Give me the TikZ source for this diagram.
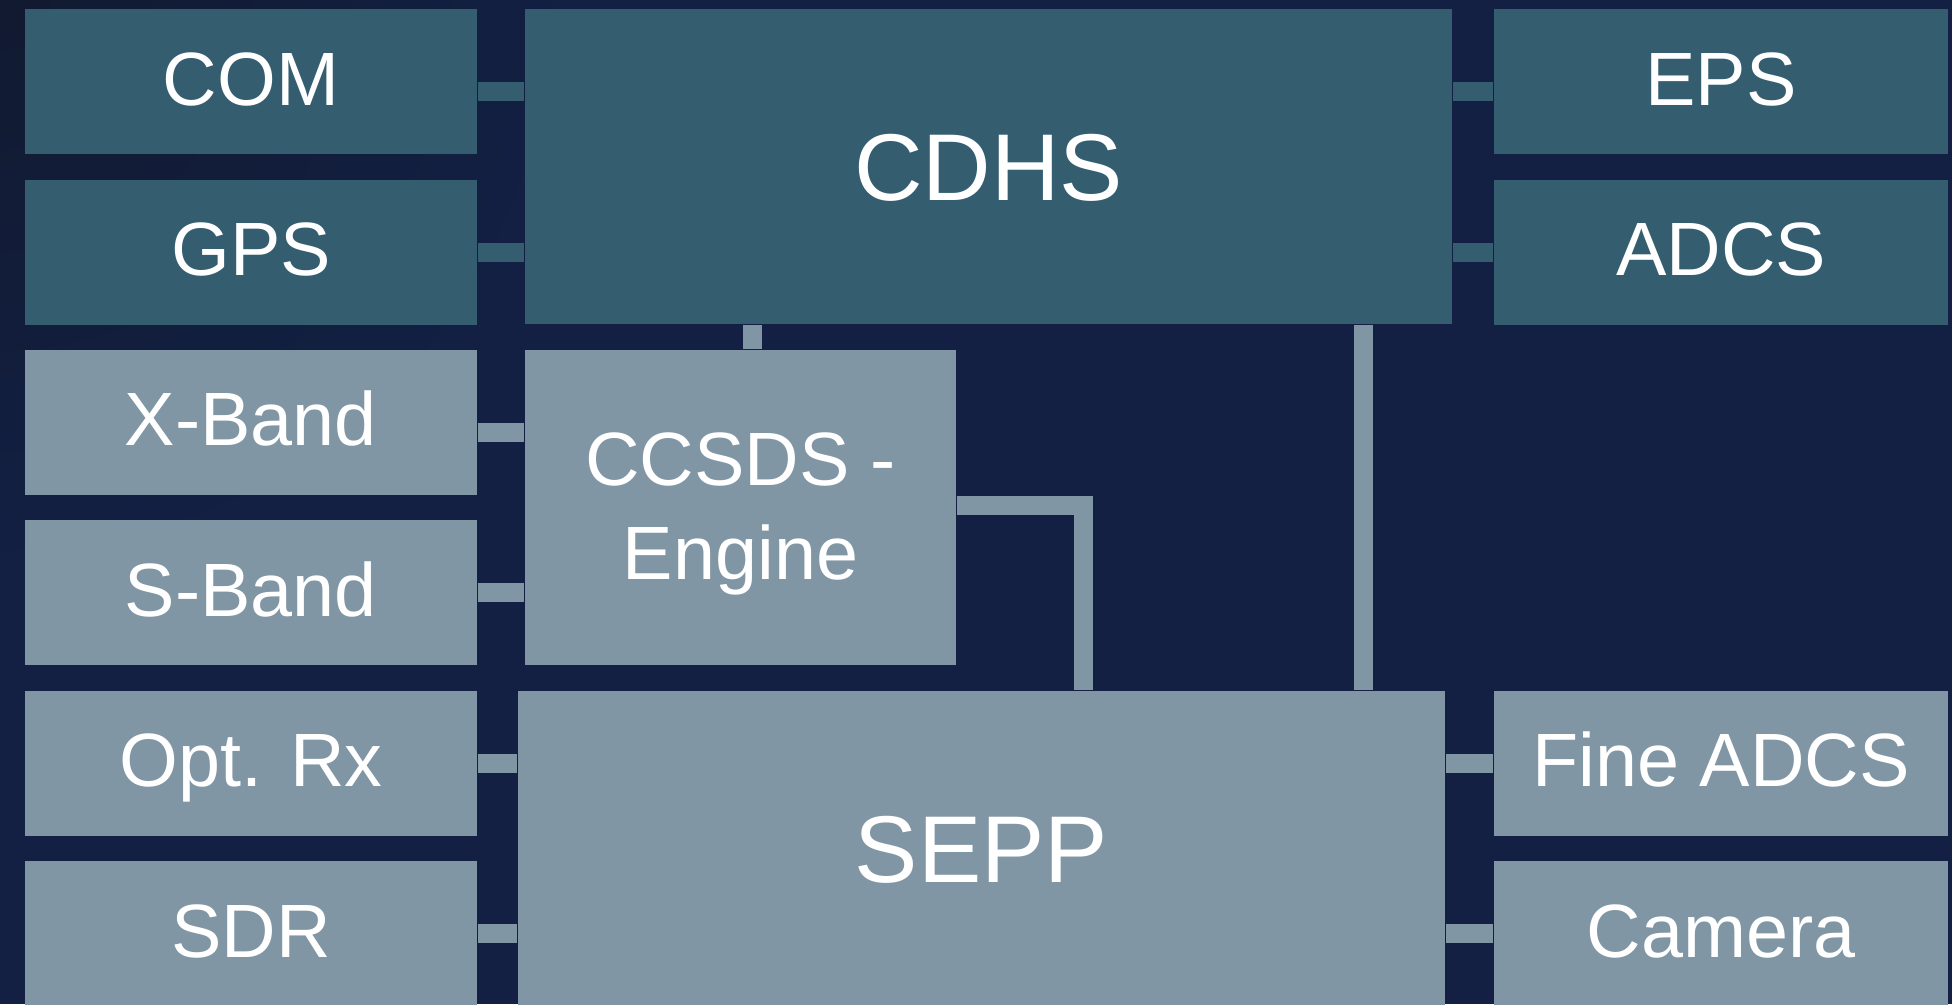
\documentclass[tikz,border=0pt]{standalone}
\usepackage{fontspec}
\setmainfont{Liberation Sans}
\definecolor{bgnavy}{HTML}{132044}
\definecolor{bgdark}{HTML}{111A30}
\definecolor{boxteal}{HTML}{345E70}
\definecolor{boxgrey}{HTML}{8196A4}

\begin{document}
\begin{tikzpicture}[y=-1cm,
    box/.style={rectangle, inner sep=0pt, text=white, align=center, font=\fontsize{21.5}{26.5}\selectfont},
    small/.style={box, minimum width=4.52cm, minimum height=1.45cm, text height=15.4pt, text depth=2pt},
    big/.style={box, minimum width=9.27cm, minimum height=3.15cm, text height=19.3pt, text depth=0pt, font=\fontsize{27}{32}\selectfont},
    dark/.style={fill=boxteal},
    light/.style={fill=boxgrey},
    darklink/.style={draw=boxteal, line width=0.19cm},
    lightlink/.style={draw=boxgrey, line width=0.19cm}]
        % Background
        \useasboundingbox (0,0) rectangle (19.52,10.04);
        \clip (0,0) rectangle (19.52,10.04);
        \fill[bgnavy] (0,0) rectangle (19.52,10.04);
        \shade[inner color=bgdark, outer color=bgnavy] (0,0) circle (6cm);

        % Draw nodes
        \node[small, dark] (com) at (2.51,0.815) {COM};
        \node[small, dark] (gps) at (2.51,2.52) {GPS};
        \node[small, light] (xband) at (2.51,4.22) {X-Band};
        \node[small, light] (sband) at (2.51,5.925) {S-Band};
        \node[small, light] (optrx) at (2.51,7.63) {Opt. Rx};
        \node[small, light] (sdr) at (2.51,9.335) {SDR};
        \node[big, dark] (cdhs) at (9.885,1.665) {CDHS};
        \node[box, light, minimum width=4.31cm, minimum height=3.15cm] (ccsds) at (7.405,5.075) {};
        \node[box, align=center] (ccsdstext) at (7.405,5.14) {CCSDS -\\Engine};
        \node[big, light] (sepp) at (9.815,8.485) {SEPP};
        \node[small, dark, minimum width=4.54cm] (eps) at (17.21,0.815) {EPS};
        \node[small, dark, minimum width=4.54cm] (adcs) at (17.21,2.52) {ADCS};
        \node[small, light, minimum width=4.54cm] (fineadcs) at (17.21,7.63) {Fine ADCS};
        \node[small, light, minimum width=4.54cm] (camera) at (17.21,9.335) {Camera};

        % Draw connections
        \coordinate (comlink) at ([yshift=-0.1cm]com.east);
        \coordinate (epslink) at ([yshift=-0.1cm]eps.west);
        \coordinate (xbandlink) at ([yshift=-0.1cm]xband.east);
        \draw[darklink] (comlink) -- (comlink -| cdhs.west);
        \draw[darklink] (gps.east) -- (gps.east -| cdhs.west);
        \draw[darklink] (epslink) -- (epslink -| cdhs.east);
        \draw[darklink] (adcs.west) -- (adcs.west -| cdhs.east);
        \draw[lightlink] (xbandlink) -- (xbandlink -| ccsds.west);
        \draw[lightlink] (sband.east) -- (sband.east -| ccsds.west);
        \draw[lightlink] (optrx.east) -- (optrx.east -| sepp.west);
        \draw[lightlink] (sdr.east) -- (sdr.east -| sepp.west);
        \draw[lightlink] (fineadcs.west) -- (fineadcs.west -| sepp.east);
        \draw[lightlink] (camera.west) -- (camera.west -| sepp.east);

        % Bus lines
        \coordinate (uplink) at ([xshift=0.115cm]ccsds.north);
        \coordinate (downlink) at ([xshift=3.815cm]sepp.north);
        \coordinate (bend) at (10.83,5.05);
        \draw[lightlink] (uplink) -- (uplink |- cdhs.south);
        \draw[lightlink] (downlink) -- (downlink |- cdhs.south);
        \draw[lightlink] (ccsds.east |- bend) -- (bend) -- (bend |- sepp.north);
    \end{tikzpicture}
\end{document}
